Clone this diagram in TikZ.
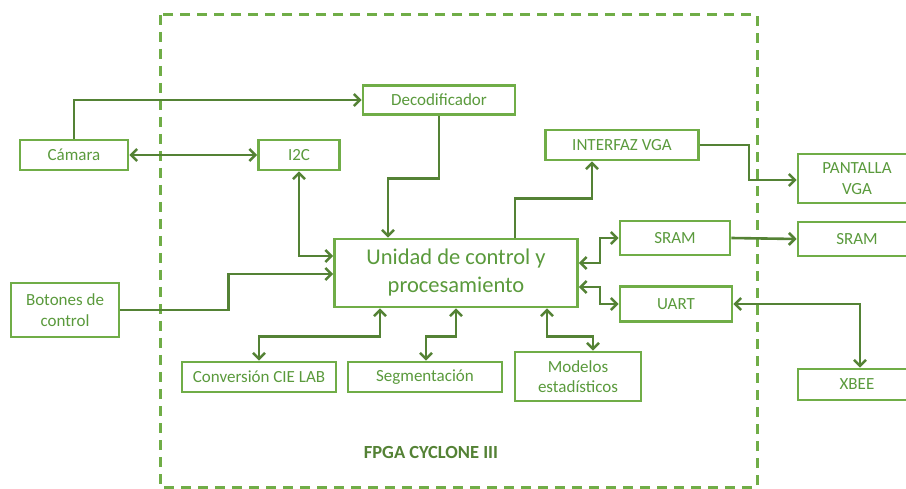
\documentclass[tikz,border=0pt]{standalone}
\usepackage{fontspec}
\setmainfont{Carlito}
\usepackage{xcolor}
\usepackage{tikz}
\usetikzlibrary{arrows.meta,calc,positioning}
\definecolor{FpgaBox}{HTML}{70AD47}
\definecolor{FpgaLine}{HTML}{548235}
\definecolor{FpgaText}{HTML}{5A9A3C}

\begin{document}
\begin{tikzpicture}[x=1pt,y=-1pt,
  blk/.style={draw=FpgaBox,line width=2.6pt,text=FpgaText,align=center,inner sep=0pt,font=\fontsize{17}{21}\selectfont},
  wire/.style={draw=FpgaLine,line width=2.6pt,-{Straight Barb[length=6pt,width=12pt]}},
  wire2/.style={wire,{Straight Barb[length=6pt,width=12pt]}-{Straight Barb[length=6pt,width=12pt]}}]
\clip (0,0) rectangle (906,489);
\fill[white] (0,0) rectangle (906,489);
\draw[FpgaBox,line width=3pt,dash pattern=on 10pt off 7pt] (160,15) rectangle (757,487);
\node[font=\bfseries\fontsize{18.5}{22}\selectfont,text=FpgaLine] (fpga) at (431,452) {FPGA CYCLONE III};
\node[blk,minimum width=108,minimum height=30] (cam) at (74,155) {Cámara};
\node[blk,minimum width=152,minimum height=29] (dec) at (439,100) {Decodificador};
\node[blk,minimum width=81,minimum height=30] (i2c) at (299,155) {I2C};
\node[blk,minimum width=153,minimum height=30] (vga) at (622,145) {INTERFAZ VGA};
\node[blk,minimum width=118,minimum height=49] (pant) at (857,178.5) {PANTALLA\\VGA};
\node[blk,minimum width=243,minimum height=68,font=\fontsize{22.5}{28}\selectfont] (unit) at (456,273) {Unidad de control y\\procesamiento};
\node[blk,minimum width=110,minimum height=34] (sram) at (675,238) {SRAM};
\node[blk,minimum width=118,minimum height=34] (sramx) at (857,239) {SRAM};
\node[blk,minimum width=112,minimum height=35] (uart) at (676,304) {UART};
\node[blk,minimum width=118,minimum height=31] (xbee) at (857,384.5) {XBEE};
\node[blk,minimum width=108,minimum height=54] (bot) at (65,310) {Botones de\\control};
\node[blk,minimum width=154,minimum height=30] (cie) at (259,377) {Conversión CIE LAB};
\node[blk,minimum width=154,minimum height=30] (seg) at (425,377) {Segmentación};
\node[blk,minimum width=126,minimum height=49,font=\fontsize{17}{20}\selectfont] (mod) at (578,376.5) {Modelos\\estadísticos};
\draw[wire] (cam.north) |- (dec.west);
\draw[wire2] (cam.east) -- (i2c.west);
\draw[wire2] (i2c.south) |- ([yshift=17pt]unit.west);
\draw[wire] (bot.east) -- ++(108,0) |- ([yshift=-1pt]unit.west);
\draw[wire] (dec.south) -- ++(0,63) -| ([xshift=-68pt]unit.north);
\draw[wire] ([xshift=59pt]unit.north) -- ++(0,-39) -| ([xshift=-30pt]vga.south);
\draw[wire] (vga.east) -- ++(49,0) |- ([yshift=-1.5pt]pant.west);
\draw[wire2] ([yshift=10pt]unit.east) -- ++(21,0) |- (sram.west);
\draw[wire2] ([yshift=-14pt]unit.east) -- ++(21,0) |- (uart.west);
\draw[wire] (sram.east) -- (sramx.west);
\draw[wire2] (uart.east) -| ([xshift=3pt]xbee.north);
\draw[wire2] ([xshift=-76pt]unit.south) -- ++(0,28) -| (cie.north);
\draw[wire2] (unit.south) -- ++(0,28) -| ([xshift=1pt]seg.north);
\draw[wire2] ([xshift=91pt]unit.south) -- ++(0,28) -| ([xshift=15pt]mod.north);
\end{tikzpicture}
\end{document}
